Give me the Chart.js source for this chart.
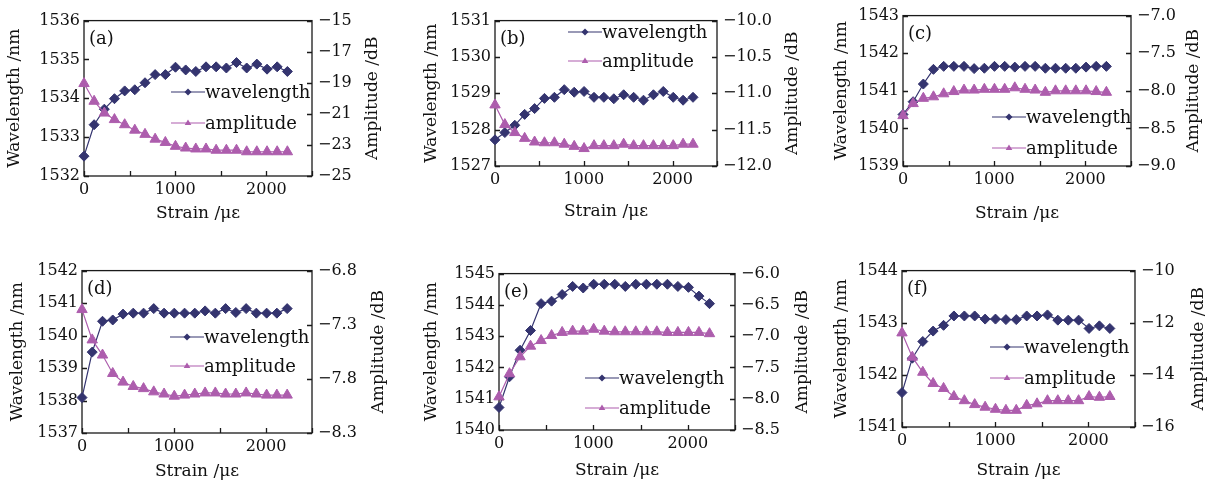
<!DOCTYPE html>
<html>
<head>
<meta charset="utf-8">
<script src="https://cdn.jsdelivr.net/npm/chart.js@4.4.1/dist/chart.umd.min.js"></script>
<style>
  body { margin: 0; background: #fff; }
  #wrap { position: relative; width: 1219px; height: 489px; overflow: hidden; }
  #wrap canvas { position: absolute; }
</style>
</head>
<body>
<div id="wrap"></div>
<script>
// strain steps (same for every panel)
const strain = [0, 111, 223, 334, 446, 557, 669, 780, 892, 1003, 1115, 1226, 1338, 1449, 1561, 1672, 1784, 1895, 2007, 2118, 2230];

// (a)
const wlA = [1532.51, 1533.32, 1533.72, 1533.99, 1534.19, 1534.22, 1534.40, 1534.61, 1534.61, 1534.80, 1534.73, 1534.69, 1534.81, 1534.81, 1534.78, 1534.92, 1534.78, 1534.88, 1534.75, 1534.81, 1534.69];
const ampA = [-19.05, -20.19, -20.95, -21.37, -21.70, -22.05, -22.32, -22.63, -22.84, -23.09, -23.20, -23.26, -23.26, -23.34, -23.34, -23.34, -23.44, -23.44, -23.44, -23.44, -23.44];
// (b)
const wlB = [1527.72, 1527.92, 1528.12, 1528.42, 1528.58, 1528.86, 1528.89, 1529.10, 1529.03, 1529.05, 1528.89, 1528.89, 1528.85, 1528.96, 1528.89, 1528.81, 1528.96, 1529.05, 1528.89, 1528.81, 1528.89];
const ampB = [-11.16, -11.43, -11.54, -11.62, -11.67, -11.68, -11.68, -11.70, -11.73, -11.76, -11.72, -11.72, -11.72, -11.70, -11.72, -11.72, -11.72, -11.72, -11.72, -11.70, -11.70];
// (c)
const wlC = [1540.37, 1540.71, 1541.18, 1541.57, 1541.65, 1541.65, 1541.65, 1541.59, 1541.60, 1541.65, 1541.65, 1541.63, 1541.65, 1541.65, 1541.60, 1541.60, 1541.60, 1541.60, 1541.63, 1541.65, 1541.65];
const ampC = [-8.33, -8.17, -8.10, -8.08, -8.04, -8.01, -7.99, -7.99, -7.98, -7.98, -7.98, -7.96, -7.98, -7.99, -8.02, -8.00, -8.00, -8.00, -8.00, -8.01, -8.02];
// (d)
const wlD = [1538.09, 1539.49, 1540.44, 1540.48, 1540.66, 1540.69, 1540.69, 1540.83, 1540.69, 1540.69, 1540.69, 1540.69, 1540.76, 1540.69, 1540.83, 1540.71, 1540.83, 1540.69, 1540.69, 1540.69, 1540.83];
const ampD = [-7.16, -7.44, -7.58, -7.75, -7.83, -7.87, -7.89, -7.92, -7.94, -7.96, -7.95, -7.94, -7.93, -7.93, -7.94, -7.94, -7.93, -7.94, -7.95, -7.95, -7.95];
// (e)
const wlE = [1540.72, 1541.70, 1542.55, 1543.18, 1544.04, 1544.12, 1544.33, 1544.59, 1544.54, 1544.66, 1544.66, 1544.66, 1544.59, 1544.66, 1544.66, 1544.66, 1544.66, 1544.59, 1544.56, 1544.28, 1544.04];
const ampE = [-7.97, -7.60, -7.33, -7.16, -7.07, -6.99, -6.94, -6.92, -6.92, -6.89, -6.92, -6.93, -6.93, -6.93, -6.93, -6.93, -6.94, -6.94, -6.94, -6.94, -6.96];
// (f)
const wlF = [1541.66, 1542.32, 1542.64, 1542.84, 1542.95, 1543.13, 1543.13, 1543.13, 1543.07, 1543.07, 1543.06, 1543.06, 1543.13, 1543.13, 1543.15, 1543.05, 1543.05, 1543.05, 1542.89, 1542.94, 1542.89];
const ampF = [-12.39, -13.32, -13.90, -14.33, -14.52, -14.83, -14.99, -15.14, -15.24, -15.32, -15.36, -15.36, -15.17, -15.11, -14.99, -14.99, -14.99, -14.99, -14.83, -14.86, -14.83];

const WL_COLOR = '#34346f';
const AMP_COLOR = '#ad5dad';
const FONT = 'DejaVu Serif';

// page layout of each panel: canvas box + plot area (L,T,R,B) + legend spot
const panels = [
  { tag: '(a)', wl: wlA, amp: ampA, yl: [1532, 1536, 1], yr: [-25, -15, 2, 0],
    canvas: [4, 5, 379, 219], plot: [84, 15, 312, 176], legend: [171, 92, 123] },
  { tag: '(b)', wl: wlB, amp: ampB, yl: [1527, 1531, 1], yr: [-12, -10, 0.5, 1],
    canvas: [421, 5, 382, 217], plot: [495, 15, 717, 166], legend: [568, 32, 61] },
  { tag: '(c)', wl: wlC, amp: ampC, yl: [1539, 1543, 1], yr: [-9, -7, 0.5, 1],
    canvas: [831, 0, 373, 224], plot: [903, 10, 1131, 166], legend: [992, 117, 148] },
  { tag: '(d)', wl: wlD, amp: ampD, yl: [1537, 1542, 1], yr: [-8.3, -6.8, 0.5, 1],
    canvas: [7, 255, 382, 227], plot: [82, 265, 312, 433], legend: [170, 337, 366] },
  { tag: '(e)', wl: wlE, amp: ampE, yl: [1540, 1545, 1], yr: [-8.5, -6, 0.5, 1],
    canvas: [421, 258, 392, 223], plot: [499, 268, 735, 430], legend: [585, 378, 408] },
  { tag: '(f)', wl: wlF, amp: ampF, yl: [1541, 1544, 1], yr: [-16, -10, 2, 0],
    canvas: [831, 255, 378, 226], plot: [902, 265, 1135, 427], legend: [990, 347, 378] }
];

function marker(ctx, style, x, y, r) {
  ctx.beginPath();
  if (style === 'rectRot') {
    ctx.moveTo(x, y - r); ctx.lineTo(x + r, y); ctx.lineTo(x, y + r); ctx.lineTo(x - r, y);
  } else {
    ctx.moveTo(x, y - r); ctx.lineTo(x + r * 0.95, y + r * 0.6); ctx.lineTo(x - r * 0.95, y + r * 0.6);
  }
  ctx.closePath();
  ctx.fill();
}

// frame, inward ticks, tag, right title, legend
const framePlugin = {
  id: 'frame',
  beforeDatasetsDraw(chart) {
    const { ctx, chartArea: a, scales } = chart;
    ctx.save();
    ctx.strokeStyle = '#1a1a1a';
    ctx.lineWidth = 1.3;
    ctx.strokeRect(a.left, a.top, a.right - a.left, a.bottom - a.top);
    ctx.beginPath();
    scales.x.ticks.forEach(t => {
      const px = Math.round(scales.x.getPixelForValue(t.value)) + 0.5;
      ctx.moveTo(px, a.bottom); ctx.lineTo(px, a.bottom - 5);
    });
    scales.y.ticks.forEach(t => {
      const py = Math.round(scales.y.getPixelForValue(t.value)) + 0.5;
      ctx.moveTo(a.left, py); ctx.lineTo(a.left + 5, py);
    });
    scales.y1.ticks.forEach(t => {
      const py = Math.round(scales.y1.getPixelForValue(t.value)) + 0.5;
      ctx.moveTo(a.right, py); ctx.lineTo(a.right - 5, py);
    });
    ctx.stroke();
    ctx.restore();
  },
  afterDraw(chart, args, opts) {
    const { ctx, chartArea: a, scales } = chart;
    ctx.save();
    ctx.fillStyle = '#111';
    ctx.font = '18px "' + FONT + '"';
    ctx.textBaseline = 'middle';
    ctx.fillText(opts.tag, a.left + 5, a.top + 19);

    // right title, reading bottom to top
    ctx.save();
    ctx.font = '17px "' + FONT + '"';
    ctx.translate(scales.y1.right - 10.5, (a.top + a.bottom) / 2);
    ctx.rotate(-Math.PI / 2);
    ctx.textAlign = 'center';
    ctx.fillText('Amplitude /dB', 0, 0);
    ctx.restore();

    // legend
    const [lx, y1, y2] = opts.legend;
    const rows = [[y1, WL_COLOR, 'rectRot', 'wavelength'], [y2, AMP_COLOR, 'triangle', 'amplitude']];
    rows.forEach(([ly, col, st, txt]) => {
      const x = lx - opts.ox, y = ly - opts.oy;
      ctx.strokeStyle = col; ctx.fillStyle = col; ctx.lineWidth = 1.2;
      ctx.beginPath(); ctx.moveTo(x, y); ctx.lineTo(x + 34, y); ctx.stroke();
      marker(ctx, st, x + 17, y, 3.5);
      ctx.fillStyle = '#111';
      ctx.font = '18px "' + FONT + '"';
      ctx.fillText(txt, x + 34, y + 1);
    });
    ctx.restore();
  }
};

const wrap = document.getElementById('wrap');

panels.forEach(p => {
  const [cx, cy, cw, ch] = p.canvas;
  const [L, T, R, B] = p.plot;
  const cv = document.createElement('canvas');
  cv.width = cw; cv.height = ch;
  cv.style.left = cx + 'px'; cv.style.top = cy + 'px';
  cv.style.width = cw + 'px'; cv.style.height = ch + 'px';
  wrap.appendChild(cv);

  const tickFont = { family: FONT, size: 16 };
  const titleFont = { family: FONT, size: 17 };

  new Chart(cv, {
    type: 'line',
    data: {
      datasets: [
        {
          label: 'amplitude',
          data: strain.map((s, i) => ({ x: s, y: p.amp[i] })),
          yAxisID: 'y1',
          borderColor: AMP_COLOR, backgroundColor: AMP_COLOR,
          borderWidth: 1.2, pointStyle: 'triangle', pointRadius: 6,
          pointBorderWidth: 1, clip: false
        },
        {
          label: 'wavelength',
          data: strain.map((s, i) => ({ x: s, y: p.wl[i] })),
          yAxisID: 'y',
          borderColor: WL_COLOR, backgroundColor: WL_COLOR,
          borderWidth: 1.2, pointStyle: 'rectRot', pointRadius: 5,
          pointBorderWidth: 1, clip: false
        }
      ]
    },
    options: {
      responsive: false,
      animation: false,
      events: [],
      devicePixelRatio: 1,
      layout: { padding: { top: T - cy, left: 0, right: 0, bottom: 0 } },
      plugins: {
        legend: { display: false },
        tooltip: { enabled: false },
        frame: { tag: p.tag, legend: p.legend, ox: cx, oy: cy }
      },
      scales: {
        x: {
          type: 'linear', min: 0, max: 2500,
          grid: { display: false, drawTicks: false }, border: { display: false },
          ticks: {
            stepSize: 500, autoSkip: false, maxRotation: 0, padding: 4,
            color: '#111', font: tickFont,
            callback: v => (v % 1000 === 0 ? String(v) : '')
          },
          title: { display: true, text: 'Strain /με', color: '#111', font: titleFont, padding: 0 },
          afterFit: s => { s.height = cy + ch - B; }
        },
        y: {
          position: 'left', min: p.yl[0], max: p.yl[1],
          grid: { display: false, drawTicks: false }, border: { display: false },
          ticks: { stepSize: p.yl[2], padding: 4, color: '#111', font: tickFont,
                   callback: v => String(Math.round(v)) },
          title: { display: true, text: 'Wavelength /nm', color: '#111', font: titleFont, padding: 0 },
          afterFit: s => { s.width = L - cx; }
        },
        y1: {
          position: 'right', min: p.yr[0], max: p.yr[1],
          grid: { display: false, drawTicks: false }, border: { display: false },
          ticks: { stepSize: p.yr[2], padding: 6, color: '#111', font: tickFont,
                   callback: v => v.toFixed(p.yr[3]).replace('-', '\u2212') },
          title: { display: false },
          afterFit: s => { s.width = cx + cw - R; }
        }
      }
    },
    plugins: [framePlugin]
  });
});
</script>
</body>
</html>
